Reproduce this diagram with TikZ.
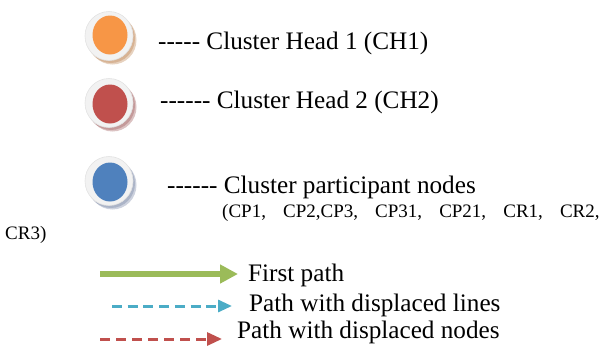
\documentclass[tikz,border=0pt]{standalone}
\usepackage{fontspec}
\setmainfont{Liberation Serif}
\usetikzlibrary{arrows.meta,shapes.geometric}

\definecolor{chorange}{HTML}{F79646}
\definecolor{chred}{HTML}{C0504D}
\definecolor{cpblue}{HTML}{4F81BD}
\definecolor{shtan}{HTML}{C99A70}
\definecolor{shmauve}{HTML}{B07878}
\definecolor{shblue}{HTML}{8F9BB5}
\definecolor{rimgray}{HTML}{F2F2F2}
\definecolor{rimedge}{HTML}{E2E2E2}
\definecolor{pathgreen}{HTML}{9BBB59}
\definecolor{pathcyan}{HTML}{4BACC6}
\definecolor{pathred}{HTML}{C0504D}

% single hyphens, kept apart so they are not joined into dashes
\newcommand\hy{\mbox{-}}
% wide comma as used in the node list
\newcommand\wc{,\hspace{0.9em}}

\begin{document}
\begin{tikzpicture}[x=1pt,y=-1pt,
  shadowlayer/.style={ellipse, inner sep=0, minimum width=48pt, minimum height=49pt},
  rim/.style={ellipse, inner sep=0, minimum width=48pt, minimum height=49pt,
              fill=rimgray, draw=rimedge, line width=0.6pt},
  core/.style={ellipse, inner sep=0, minimum width=35pt, minimum height=39pt},
  bigtext/.style={anchor=base west, inner sep=0, font=\fontsize{25.2}{28}\selectfont},
  smalltext/.style={anchor=base west, inner sep=0, font=\fontsize{19}{22}\selectfont},
  greenpath/.style={draw=pathgreen, line width=6.5pt,
                    -{Triangle[length=18pt,width=18pt,fill=pathgreen]}},
  cyanpath/.style={draw=pathcyan, line width=3pt, dash pattern=on 10pt off 5.7pt,
                   -{Triangle[length=14pt,width=12pt,fill=pathcyan]}},
  redpath/.style={draw=pathred, line width=3pt, dash pattern=on 10pt off 6pt,
                  -{Triangle[length=15pt,width=13pt,fill=pathred]}}]
\useasboundingbox (0,0) rectangle (602,346);

% cluster head 1 badge
\node[shadowlayer, fill=shtan!45] (ch1s2) at (112.5,40) {};
\node[shadowlayer, fill=shtan!75] (ch1s1) at (111,38.5) {};
\node[rim] (ch1r) at (109,36) {};
\node[core, fill=chorange] (ch1) at (110,35) {};

% cluster head 2 badge
\node[shadowlayer, fill=shmauve!45] (ch2s2) at (112.5,107) {};
\node[shadowlayer, fill=shmauve!75] (ch2s1) at (111,105.5) {};
\node[rim] (ch2r) at (109,103) {};
\node[core, fill=chred] (ch2) at (110,104) {};

% participant badge
\node[shadowlayer, fill=shblue!45] (cps2) at (112.5,185) {};
\node[shadowlayer, fill=shblue!75] (cps1) at (111,183.5) {};
\node[rim] (cpr) at (109,181) {};
\node[core, fill=cpblue] (cp) at (110,182) {};

% legend texts for the badges
\node[bigtext] (lab1) at (158,49) {\hy\hy\hy\hy\hy\ Cluster Head 1 (CH1)};
\node[bigtext] (lab2) at (160,108) {\hy\hy\hy\hy\hy\hy\ Cluster Head 2 (CH2)};
\node[bigtext] (lab3) at (167,193) {\hy\hy\hy\hy\hy\hy\ Cluster participant nodes};
\node[smalltext] (list1) at (222,217) {(CP1\wc CP2,CP3\wc CP31\wc CP21\wc CR1\wc CR2,};
\node[smalltext] (list2) at (5,239) {CR3)};

% path legend
\coordinate (g0) at (100,274);
\coordinate (g1) at (238,274);
\coordinate (c0) at (112,306);
\coordinate (c1) at (232,306);
\coordinate (r0) at (100,339);
\coordinate (r1) at (222,339);
\draw[greenpath] (g0) -- (g1);
\draw[cyanpath] (c0) -- (c1);
\draw[redpath] (r0) -- (r1);

\node[bigtext] (p1) at (248,281) {First path};
\node[bigtext] (p2) at (249,311) {Path with displaced lines};
\node[bigtext] (p3) at (237,338) {Path with displaced nodes};
\end{tikzpicture}
\end{document}
